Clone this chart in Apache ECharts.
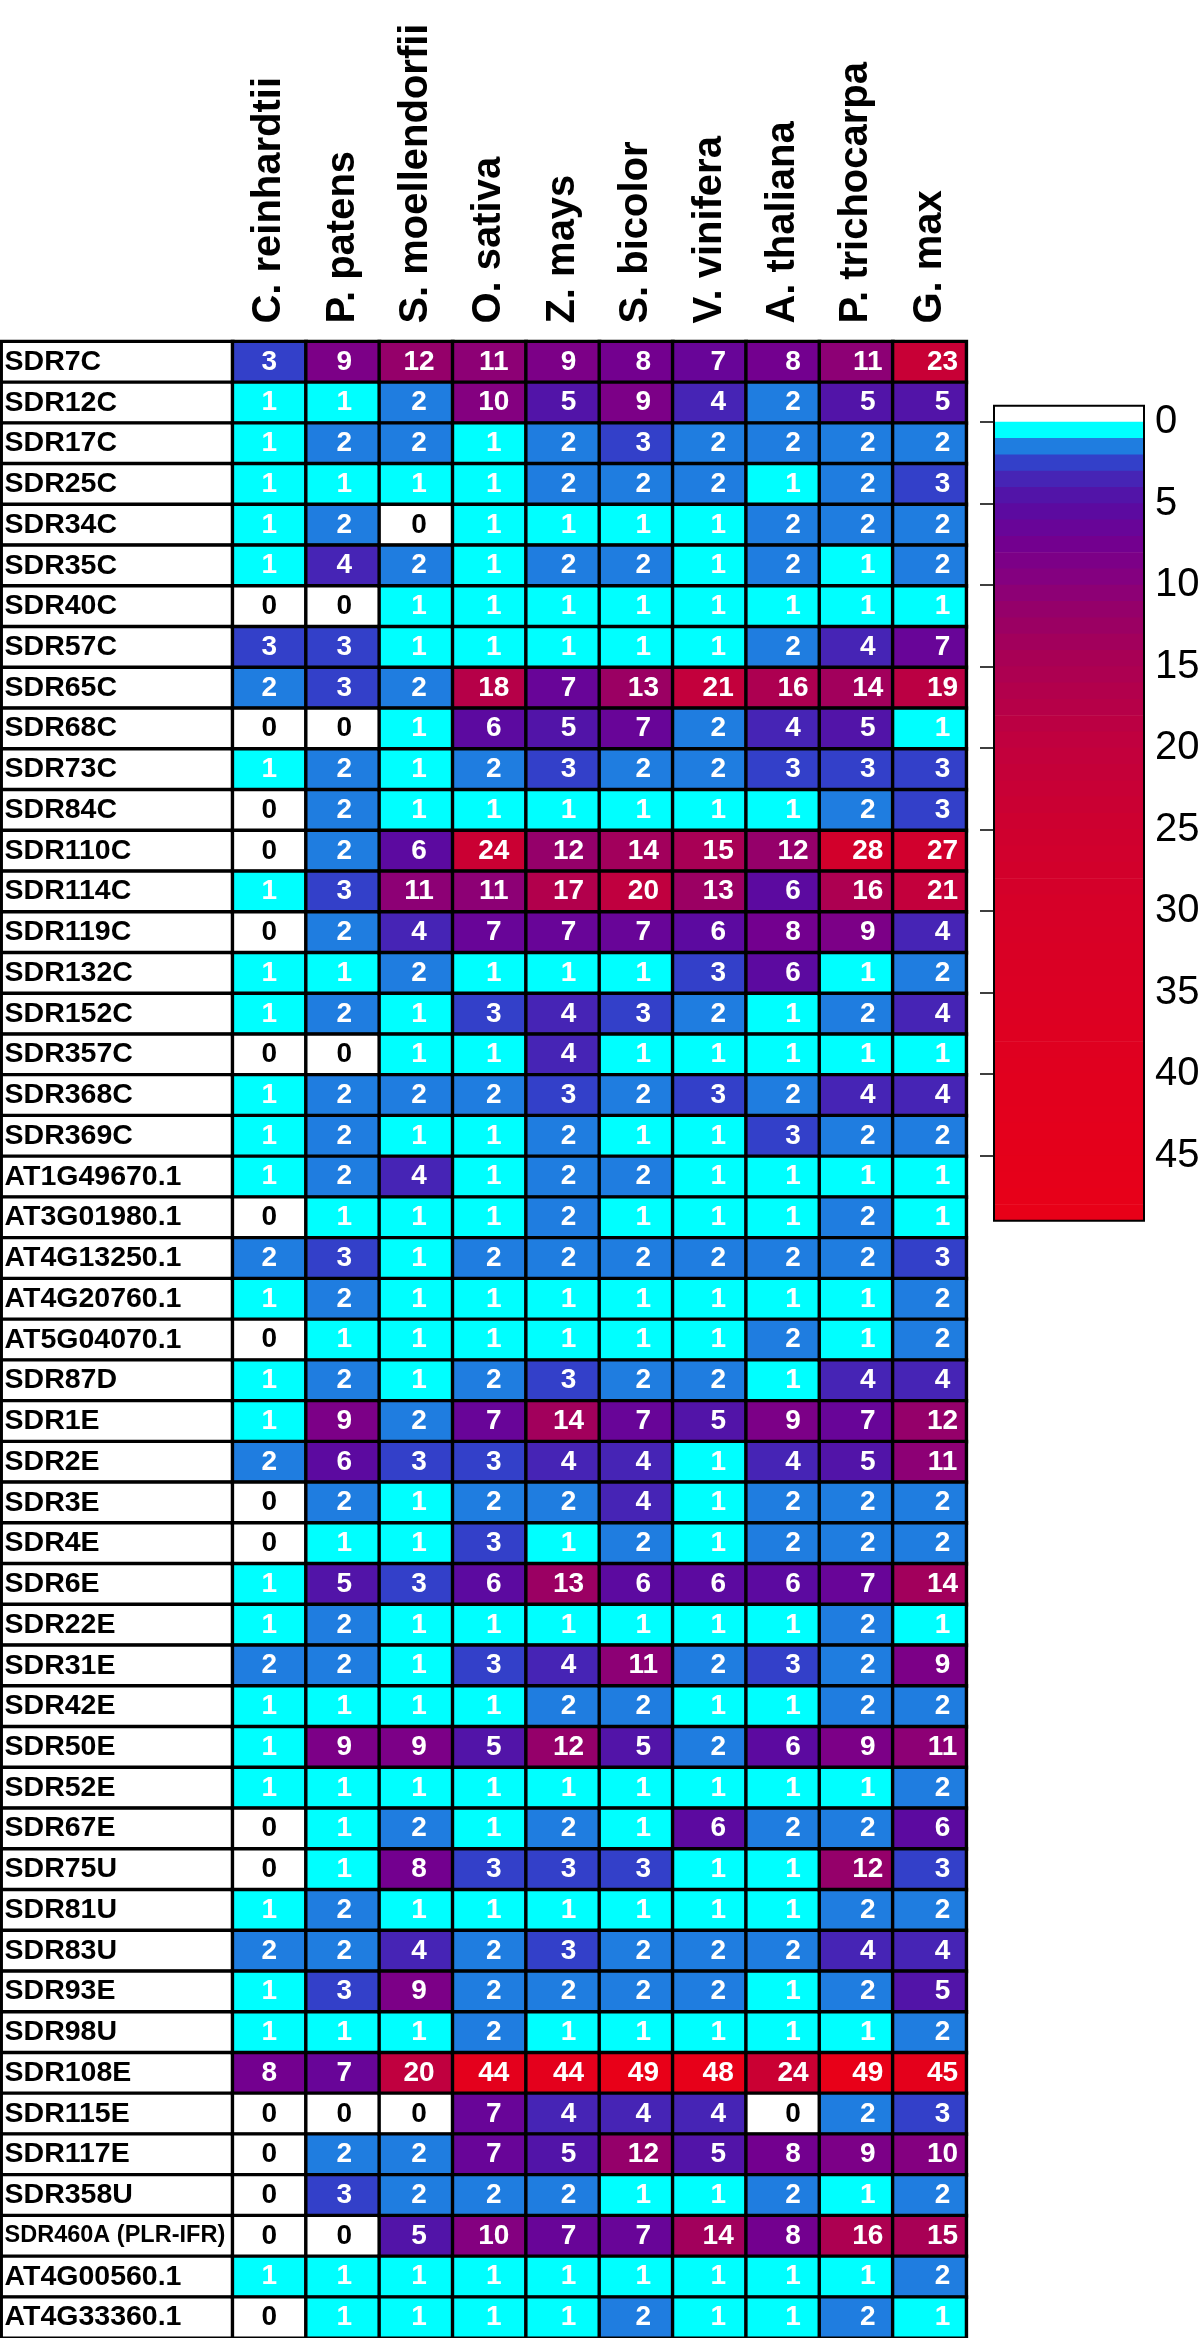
<!DOCTYPE html>
<html>
<head>
<meta charset="utf-8">
<script src="https://cdn.jsdelivr.net/npm/echarts@6/dist/echarts.min.js"></script>
<style>
html,body{margin:0;padding:0;background:#fff;}
#chart{width:1200px;height:2338px;}
</style>
</head>
<body>
<div id="chart"></div>
<script>
// ---------------- DATA ----------------
const species = ['C. reinhardtii','P. patens','S. moellendorfii','O. sativa','Z. mays',
  'S. bicolor','V. vinifera','A. thaliana','P. trichocarpa','G. max'];

const genes = ['SDR7C','SDR12C','SDR17C','SDR25C','SDR34C','SDR35C','SDR40C','SDR57C','SDR65C','SDR68C',
  'SDR73C','SDR84C','SDR110C','SDR114C','SDR119C','SDR132C','SDR152C','SDR357C','SDR368C','SDR369C',
  'AT1G49670.1','AT3G01980.1','AT4G13250.1','AT4G20760.1','AT5G04070.1','SDR87D','SDR1E','SDR2E','SDR3E','SDR4E',
  'SDR6E','SDR22E','SDR31E','SDR42E','SDR50E','SDR52E','SDR67E','SDR75U','SDR81U','SDR83U',
  'SDR93E','SDR98U','SDR108E','SDR115E','SDR117E','SDR358U','SDR460A (PLR-IFR)','AT4G00560.1','AT4G33360.1'];

// gene counts per species, in the order of `genes`
const cReinhardtii = [3,1,1,1,1,1,0,3,2,0, 1,0,0,1,0,1,1,0,1,1, 1,0,2,1,0,1,1,2,0,0, 1,1,2,1,1,1,0,0,1,2, 1,1,8,0,0,0,0,1,0];
const pPatens      = [9,1,2,1,2,4,0,3,3,0, 2,2,2,3,2,1,2,0,2,2, 2,1,3,2,1,2,9,6,2,1, 5,2,2,1,9,1,1,1,2,2, 3,1,7,0,2,3,0,1,1];
const sMoellendorfii = [12,2,2,1,0,2,1,1,2,1, 1,1,6,11,4,2,1,1,2,1, 4,1,1,1,1,1,2,3,1,1, 3,1,1,1,9,1,2,8,1,4, 9,1,20,0,2,2,5,1,1];
const oSativa      = [11,10,1,1,1,1,1,1,18,6, 2,1,24,11,7,1,3,1,2,1, 1,1,2,1,1,2,7,3,2,3, 6,1,3,1,5,1,1,3,1,2, 2,2,44,7,7,2,10,1,1];
const zMays        = [9,5,2,2,1,2,1,1,7,5, 3,1,12,17,7,1,4,4,3,2, 2,2,2,1,1,3,14,4,2,1, 13,1,4,2,12,1,2,3,1,3, 2,1,44,4,5,2,7,1,1];
const sBicolor     = [8,9,3,2,1,2,1,1,13,7, 2,1,14,20,7,1,3,1,2,1, 2,1,2,1,1,2,7,4,4,2, 6,1,11,2,5,1,1,3,1,2, 2,1,49,4,12,1,7,1,2];
const vVinifera    = [7,4,2,2,1,1,1,1,21,2, 2,1,15,13,6,3,2,1,3,1, 1,1,2,1,1,2,5,1,1,1, 6,1,2,1,2,1,6,1,1,2, 2,1,48,4,5,1,14,1,1];
const aThaliana    = [8,2,2,1,2,2,1,2,16,4, 3,1,12,6,8,6,1,1,2,3, 1,1,2,1,2,1,9,4,2,2, 6,1,3,1,6,1,2,1,1,2, 1,1,24,0,8,2,8,1,1];
const pTrichocarpa = [11,5,2,2,2,1,1,4,14,5, 3,2,28,16,9,1,2,1,4,2, 1,2,2,1,1,4,7,5,2,2, 7,2,2,2,9,1,2,12,2,4, 2,1,49,2,9,1,16,1,2];
const gMax         = [23,5,2,3,2,2,1,7,19,1, 3,3,27,21,4,2,4,1,4,2, 1,1,3,2,2,4,12,11,2,2, 14,1,9,2,11,2,6,3,2,4, 5,2,45,3,10,2,15,2,1];

const speciesCounts = [cReinhardtii,pPatens,sMoellendorfii,oSativa,zMays,sBicolor,vVinifera,aThaliana,pTrichocarpa,gMax];

const colorbarTicks = [0,5,10,15,20,25,30,35,40,45];
const colorbarMin = -1;
const colorbarMax = 49;

// ---------------- COLOR SCALE ----------------
const paletteStops = [
  [0,'#ffffff'],[1,'#00ffff'],[2,'#1f7de0'],[3,'#3340c9'],[4,'#4624b5'],[5,'#5214a8'],
  [6,'#5c0aa0'],[7,'#680598'],[8,'#73008f'],[9,'#7c0087'],[10,'#840080'],[12,'#95006a'],
  [15,'#a80055'],[20,'#c0003f'],[25,'#cd0030'],[30,'#d60028'],[40,'#e0001f'],[49,'#e80018']
];
function hexToRgb(h){return [parseInt(h.substr(1,2),16),parseInt(h.substr(3,2),16),parseInt(h.substr(5,2),16)];}
function rgbToHex(c){return '#'+c.map(x=>Math.round(x).toString(16).padStart(2,'0')).join('');}
const levels = [];
for (let v = 0; v <= 49; v++) levels.push(v);
const palette = levels.map(v => {
  for (let k = 0; k < paletteStops.length - 1; k++) {
    const [a, ca] = paletteStops[k], [b, cb] = paletteStops[k+1];
    if (v >= a && v <= b) {
      const t = (v - a) / (b - a);
      const A = hexToRgb(ca), B = hexToRgb(cb);
      return rgbToHex(A.map((x,i)=>x + (B[i]-x)*t));
    }
  }
  return paletteStops[paletteStops.length-1][1];
});

// ---------------- LAYOUT ----------------
const FONT = "'Liberation Sans', Arial, Helvetica, sans-serif";
const TABLE_TOP = 341.6;
const ROW_H = 40.74;
const TABLE_H = ROW_H * genes.length;
const NAME_LEFT = 1.5, NAME_W = 231.2;
const DATA_LEFT = NAME_LEFT + NAME_W, DATA_W = 733.5;

const nameData = genes.map((g, i) => ({
  value: [0, i, 0],
  label: { fontSize: g.length > 12 ? 23.5 : 28.5 }
}));

const cellData = [];
speciesCounts.forEach((col, j) => {
  col.forEach((v, i) => {
    cellData.push({
      value: [j, i, v],
      label: { color: v === 0 ? '#000' : '#fff', offset: [j * 1.45, 0] }
    });
  });
});

const chart = echarts.init(document.getElementById('chart'), null, {renderer: 'canvas', width: 1200, height: 2338});

chart.setOption({
  animation: false,
  backgroundColor: '#fff',
  textStyle: { fontFamily: FONT },
  grid: [
    { left: NAME_LEFT, top: TABLE_TOP, width: NAME_W, height: TABLE_H, show: true, borderColor: '#000', borderWidth: 3, backgroundColor: 'transparent', outerBoundsMode: 'none', containLabel: false },
    { left: DATA_LEFT, top: TABLE_TOP, width: DATA_W, height: TABLE_H, show: true, borderColor: '#000', borderWidth: 3, backgroundColor: 'transparent', outerBoundsMode: 'none', containLabel: false },
    { left: 994, top: 405.8, width: 150, height: 815, show: true, borderColor: '#000', borderWidth: 2, backgroundColor: 'transparent', outerBoundsMode: 'none', containLabel: false }
  ],
  xAxis: [
    { gridIndex: 0, type: 'category', data: ['name'], show: false },
    { gridIndex: 1, type: 'category', data: species, position: 'top',
      axisLine: { show: false }, axisTick: { show: false }, splitLine: { show: false },
      axisLabel: { interval: 0, rotate: -90, margin: 18, fontSize: 40, fontWeight: 'bold', color: '#000', fontFamily: FONT } },
    { gridIndex: 2, type: 'value', min: 0, max: 1, show: false }
  ],
  yAxis: [
    { gridIndex: 0, type: 'category', data: genes, inverse: true, show: false },
    { gridIndex: 1, type: 'category', data: genes, inverse: true, show: false },
    { gridIndex: 2, type: 'value', min: colorbarMin, max: colorbarMax, inverse: true, position: 'right',
      axisLine: { show: false }, splitLine: { show: false },
      axisTick: { show: true, inside: true, length: 14, customValues: colorbarTicks, lineStyle: { color: '#000', width: 1.5 } },
      axisLabel: { show: true, customValues: colorbarTicks, margin: 11, fontSize: 40, color: '#000', fontFamily: FONT, padding: [0, 0, 18, 0] } }
  ],
  visualMap: [
    { type: 'continuous', show: false, seriesIndex: 0, dimension: 2, min: 0, max: 1, inRange: { color: ['#ffffff', '#ffffff'] } },
    { type: 'continuous', show: false, seriesIndex: 1, dimension: 2, min: 0, max: 49, inRange: { color: palette } }
  ],
  series: [
    {
      type: 'heatmap', xAxisIndex: 0, yAxisIndex: 0, silent: true,
      data: nameData,
      itemStyle: { color: '#fff', borderColor: '#000', borderWidth: 3.4 },
      label: { show: true, position: 'insideLeft', distance: 5, color: '#000', fontWeight: 'bold', fontSize: 28.5, fontFamily: FONT,
        formatter: p => genes[p.value[1]] },
      emphasis: { disabled: true }
    },
    {
      type: 'heatmap', xAxisIndex: 1, yAxisIndex: 1, silent: true,
      data: cellData,
      itemStyle: { borderColor: '#000', borderWidth: 3.4 },
      label: { show: true, fontWeight: 'bold', fontSize: 28, fontFamily: FONT, formatter: p => String(p.value[2]) },
      emphasis: { disabled: true }
    },
    {
      type: 'custom', xAxisIndex: 2, yAxisIndex: 2, silent: true, z: -1,
      data: levels.map(v => [v]),
      encode: { y: 0 },
      renderItem: (params, api) => {
        const v = api.value(0);
        const p0 = api.coord([0, v - 1]);
        const p1 = api.coord([1, v]);
        return {
          type: 'rect',
          shape: { x: p0[0], y: Math.min(p0[1], p1[1]) - 0.3, width: p1[0] - p0[0], height: Math.abs(p1[1] - p0[1]) + 0.6 },
          style: { fill: palette[v] }
        };
      }
    }
  ]
});
</script>
</body>
</html>
